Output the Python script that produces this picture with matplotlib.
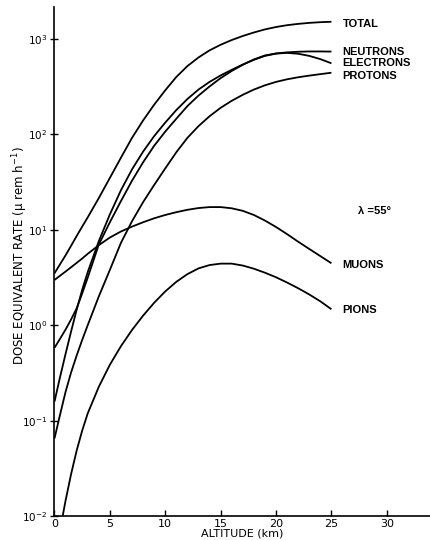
import matplotlib
matplotlib.use("Agg")
import matplotlib.pyplot as plt
from matplotlib.ticker import FixedLocator, NullLocator, LogFormatterSciNotation

# ---- data (altitude in km, dose equivalent rate in micro-rem per hour) ----
alt = [0, 0.5, 1, 1.5, 2, 2.5, 3, 4, 5, 6, 7, 8, 9, 10, 11, 12, 13, 14, 15,
       16, 17, 18, 19, 20, 21, 22, 23, 24, 25]
total = [3.5, 4.35, 5.4, 6.8, 8.6, 10.8, 13.5, 21.5, 35, 57, 92, 140, 205,
         290, 400, 520, 640, 760, 870, 975, 1075, 1170, 1260, 1335, 1395,
         1440, 1475, 1500, 1515]
neutrons = [0.58, 0.72, 0.9, 1.15, 1.5, 2.15, 3.15, 7.0, 12, 20, 32.7, 51, 76,
            107, 146, 198, 255, 318, 389, 462, 537, 610, 672, 705, 724, 735,
            740, 740, 738]
electrons = [0.158, 0.285, 0.5, 0.86, 1.45, 2.35, 3.6, 7.6, 14.5, 26, 43, 66,
             96, 133, 180, 235, 295, 355, 415, 475, 540, 605, 665, 703, 715,
             700, 665, 615, 556]
protons = [0.065, 0.115, 0.2, 0.32, 0.48, 0.7, 1.0, 2.0, 3.8, 7.3, 12.3, 19.5,
           29.5, 44, 65, 92, 122, 155, 190, 225, 260, 295, 327, 355, 378, 397,
           413, 428, 443]
muons = [2.98, 3.3, 3.65, 4.05, 4.5, 5.0, 5.6, 6.9, 8.3, 9.6, 10.8, 12.0,
         13.2, 14.3, 15.3, 16.2, 16.9, 17.3, 17.3, 16.8, 15.8, 14.3, 12.5,
         10.7, 9.0, 7.5, 6.3, 5.3, 4.46]
pion_alt = [0.74, 1, 1.5, 2, 2.5, 3, 4, 5, 6, 7, 8, 9, 10, 11, 12, 13, 14, 15,
            16, 17, 18, 19, 20, 21, 22, 23, 24, 25]
pions = [0.01, 0.0145, 0.0275, 0.0484, 0.0785, 0.119, 0.226, 0.385, 0.603,
         0.891, 1.26, 1.72, 2.26, 2.85, 3.43, 3.94, 4.27, 4.42, 4.42, 4.22,
         3.91, 3.55, 3.18, 2.80, 2.44, 2.10, 1.78, 1.47]

labels = ["TOTAL", "NEUTRONS", "ELECTRONS", "PROTONS", "MUONS", "PIONS"]
label_y = [1450, 736, 556, 410, 4.27, 1.44]

x_ticks = [0, 5, 10, 15, 20, 25, 30]
y_ticks = [1e-2, 1e-1, 1e0, 1e1, 1e2, 1e3]

# ---- figure ----
fig = plt.figure(figsize=(4.30, 5.40), dpi=100)
ax = fig.add_axes([0.1267, 0.0444, 0.8733, 0.9426])

lw = 1.3
for xs, ys in [(alt, total), (alt, neutrons), (alt, electrons), (alt, protons),
               (alt, muons), (pion_alt, pions)]:
    ax.plot(xs, ys, color="black", lw=lw, solid_joinstyle="round",
            solid_capstyle="butt")

ax.set_yscale("log")
ax.set_xlim(0, 33.9)
ax.set_ylim(1e-2, 10 ** 3.335)

ax.spines["top"].set_visible(False)
ax.spines["right"].set_visible(False)
ax.spines["left"].set_linewidth(1.2)
ax.spines["bottom"].set_linewidth(1.2)

ax.xaxis.set_major_locator(FixedLocator(x_ticks))
ax.yaxis.set_major_locator(FixedLocator(y_ticks))
ax.yaxis.set_minor_locator(NullLocator())
ax.yaxis.set_major_formatter(LogFormatterSciNotation())
ax.tick_params(axis="y", direction="inout", length=6, width=1, labelsize=7.5,
               pad=2)
ax.tick_params(axis="x", direction="in", length=4, width=1, labelsize=8,
               pad=2)

ax.set_xlabel("ALTITUDE (km)", fontsize=8, labelpad=0)
ax.set_ylabel("DOSE EQUIVALENT RATE (μ rem h$^{-1}$)", fontsize=8.5)
ax.yaxis.set_label_coords(-0.066, 0.511)

for lab, yv in zip(labels, label_y):
    ax.text(26.0, yv, lab, fontsize=8, fontweight="bold",
            family="Liberation Sans", va="center", ha="left")

ax.text(27.4, 15.8, "λ =55°", fontsize=8, fontweight="bold",
        family="Liberation Sans", va="center", ha="left")

fig.savefig("out.png", dpi=100)
